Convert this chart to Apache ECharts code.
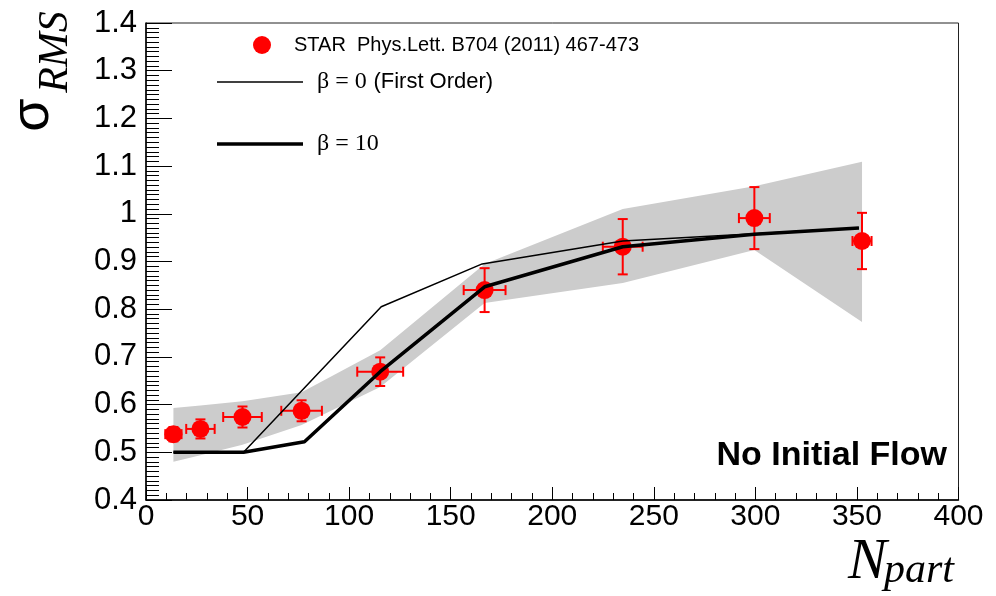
<html>
<head>
	<meta charset="utf-8">
	<title>sigma RMS vs Npart</title>
	<script src="https://cdn.jsdelivr.net/npm/echarts@6.0.0/dist/echarts.min.js"></script>
	<style type="text/css">
		html, body { margin: 0; padding: 0; background: #fff; }
	</style>
</head>
	<body>
		<div id="eCharts-container" style="width:996px;height:596px"></div>
	<script type="text/javascript">
		// STAR data points
		var nPart = [13.5, 26.8, 47.5, 76.6, 115.3, 166.7, 234.7, 299.5, 352.5];
		var sigma = [0.538, 0.549, 0.574, 0.587, 0.669, 0.840, 0.931, 0.991, 0.943];
		var nPartErr = [4, 7, 9.5, 10, 11.3, 10.3, 9.8, 7.6, 4.7];
		var sigmaErr = [0.015, 0.02, 0.022, 0.022, 0.03, 0.046, 0.058, 0.065, 0.059];
		// model curves
		var beta0X = [13.5, 48, 115.8, 165.5, 234.7, 299.5, 351];
		var beta0Y = [0.5, 0.5, 0.805, 0.895, 0.943, 0.958, 0.97];
		var beta10X = [13.5, 48, 78, 115.3, 166.7, 234.7, 299.5, 351];
		var beta10Y = [0.5, 0.5, 0.522, 0.669, 0.847, 0.931, 0.957, 0.97];
		// grey band
		var bandX = [13.5, 26.8, 47.5, 76.6, 115.3, 166.7, 234.7, 299.5, 352.5];
		var bandLo = [0.480, 0.494, 0.516, 0.557, 0.637, 0.813, 0.855, 0.924, 0.773];
		var bandHi = [0.593, 0.598, 0.607, 0.626, 0.714, 0.895, 1.010, 1.058, 1.109];

		var starName = 'STAR  Phys.Lett. B704 (2011) 467-473';
		var b0Name = 'beta0';
		var b10Name = 'beta10';

		function pairs(xs, ys) {
			var out = [];
			for (var i = 0; i < xs.length; i++) out.push([xs[i], ys[i]]);
			return out;
		}

		var bandData = [];
		for (var i = 0; i < bandX.length; i++) bandData.push([bandX[i], bandLo[i], bandHi[i]]);
		var errData = [];
		for (var i = 0; i < nPart.length; i++) errData.push([nPart[i], sigma[i], nPartErr[i], sigmaErr[i]]);

		var myChart = echarts.init(document.getElementById('eCharts-container'));
		var sans = 'Liberation Sans';
		var serif = 'Liberation Serif';

		var legendRich = {
			b: { fontFamily: serif, fontSize: 24, color: '#000' },
			s: { fontFamily: sans, fontSize: 22, color: '#000' }
		};
		function legendFmt(name) {
			if (name == b0Name) return '{b|\u03b2 = 0}  {s|(First Order)}';
			if (name == b10Name) return '{b|\u03b2 = 10}';
			return name;
		}

		var option = {
			animation: false,
			grid: { left: 146, right: 37.5, top: 23, bottom: 96, show: true, borderColor: '#222', borderWidth: 1 },
			xAxis: {
				type: 'value', min: 0, max: 400, interval: 50,
				axisLine: { show: true, onZero: false, lineStyle: { color: '#000', width: 1.5 } },
				axisTick: { inside: true, length: 13, lineStyle: { color: '#000' } },
				minorTick: { show: true, splitNumber: 5, length: 7, lineStyle: { color: '#000' } },
				splitLine: { show: false },
				axisLabel: { color: '#000', fontFamily: sans, fontSize: 30, margin: 2 }
			},
			yAxis: {
				type: 'value', min: 0.4, max: 1.4, interval: 0.1,
				axisLine: { show: true, onZero: false, lineStyle: { color: '#000', width: 1.5 } },
				axisTick: { inside: true, length: 26, lineStyle: { color: '#000' } },
				minorTick: { show: true, splitNumber: 10, length: 13, lineStyle: { color: '#000' } },
				splitLine: { show: false },
				axisLabel: { color: '#000', fontFamily: sans, fontSize: 31, margin: 9 }
			},
			legend: [
				{ data: [starName], left: 253, top: 35, padding: 0, orient: 'vertical', itemWidth: 18, itemHeight: 18,
				  textStyle: { fontFamily: sans, fontSize: 20, color: '#000', padding: [0, 0, 0, 18] } },
				{ data: [b0Name], left: 217, top: 70, padding: 0, icon: 'rect', itemWidth: 86, itemHeight: 1.5, formatter: legendFmt,
				  textStyle: { rich: legendRich, padding: [0, 0, 0, 9] } },
				{ data: [b10Name], left: 217, top: 132, padding: 0, icon: 'rect', itemWidth: 86, itemHeight: 3.5, formatter: legendFmt,
				  textStyle: { rich: legendRich, padding: [0, 0, 0, 9] } }
			],
			graphic: [
				{ type: 'text', x: 33, y: 115, rotation: Math.PI / 2,
				  style: { text: '\u03c3', font: '54px "Liberation Sans"', fill: '#000', align: 'center', verticalAlign: 'middle' } },
				{ type: 'text', x: 56, y: 52, rotation: Math.PI / 2,
				  style: { text: 'RMS', font: 'italic 42px "Liberation Serif"', fill: '#000', align: 'center', verticalAlign: 'middle' } },
				{ type: 'text', x: 848, y: 563,
				  style: { text: 'N', font: 'italic 58px "Liberation Serif"', fill: '#000', align: 'left', verticalAlign: 'middle' } },
				{ type: 'text', x: 884, y: 571,
				  style: { text: 'part', font: 'italic 42px "Liberation Serif"', fill: '#000', align: 'left', verticalAlign: 'middle' } },
				{ type: 'text', right: 49, top: 439,
				  style: { text: 'No Initial Flow', font: 'bold 34px "Liberation Sans"', fill: '#000' } }
			],
			series: [
				{
					name: 'band', type: 'custom', z: 1, silent: true,
					data: bandData,
					renderItem: function (params, api) {
						if (params.dataIndex !== 0) return;
						var pts = [];
						for (var i = 0; i < bandData.length; i++) pts.push(api.coord([bandData[i][0], bandData[i][2]]));
						for (var i = bandData.length - 1; i >= 0; i--) pts.push(api.coord([bandData[i][0], bandData[i][1]]));
						return { type: 'polygon', shape: { points: pts }, style: { fill: '#cccccc' } };
					}
				},
				{
					name: 'errors', type: 'custom', z: 3, silent: true,
					data: errData,
					renderItem: function (params, api) {
						var x = api.value(0), y = api.value(1), ex = api.value(2), ey = api.value(3);
						var l = api.coord([x - ex, y]), r = api.coord([x + ex, y]);
						var t = api.coord([x, y + ey]), b = api.coord([x, y - ey]);
						var st = { stroke: '#ff0000', lineWidth: 2 };
						var c = 5;
						return { type: 'group', children: [
							{ type: 'line', shape: { x1: l[0], y1: l[1], x2: r[0], y2: r[1] }, style: st },
							{ type: 'line', shape: { x1: t[0], y1: t[1], x2: b[0], y2: b[1] }, style: st },
							{ type: 'line', shape: { x1: l[0], y1: l[1] - c, x2: l[0], y2: l[1] + c }, style: st },
							{ type: 'line', shape: { x1: r[0], y1: r[1] - c, x2: r[0], y2: r[1] + c }, style: st },
							{ type: 'line', shape: { x1: t[0] - c, y1: t[1], x2: t[0] + c, y2: t[1] }, style: st },
							{ type: 'line', shape: { x1: b[0] - c, y1: b[1], x2: b[0] + c, y2: b[1] }, style: st }
						] };
					}
				},
				{
					name: starName, type: 'scatter', z: 3, symbol: 'circle', symbolSize: 18,
					itemStyle: { color: '#ff0000', opacity: 1 },
					data: pairs(nPart, sigma)
				},
				{
					name: b0Name, type: 'line', z: 4, symbol: 'none',
					lineStyle: { color: '#000', width: 1.5 },
					itemStyle: { color: '#000' },
					data: pairs(beta0X, beta0Y)
				},
				{
					name: b10Name, type: 'line', z: 4, symbol: 'none',
					lineStyle: { color: '#000', width: 3.5 },
					itemStyle: { color: '#000' },
					data: pairs(beta10X, beta10Y)
				}
			]
		};
		myChart.setOption(option);
	</script>
	</body>
</html>
